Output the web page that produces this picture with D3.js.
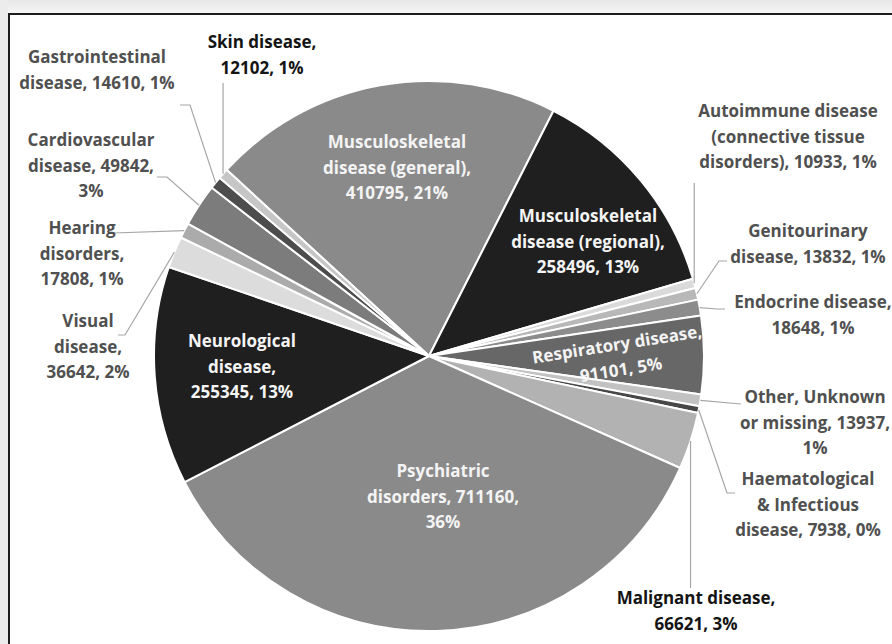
<!DOCTYPE html>
<html>
<head>
<meta charset="utf-8">
<script src="https://cdn.jsdelivr.net/npm/d3@7"></script>
<style>
  html, body { margin: 0; padding: 0; background: #fff; }
  svg { display: block; }
  text { font-family: "Open Sans", "Noto Sans", sans-serif; font-weight: bold; }
</style>
</head>
<body>
<svg id="chart" width="892" height="644"></svg>
<script>
// ---- data (clockwise order as drawn) ----
const categories = [
  "Musculoskeletal disease (general)",
  "Musculoskeletal disease (regional)",
  "Autoimmune disease (connective tissue disorders)",
  "Genitourinary disease",
  "Endocrine disease",
  "Respiratory disease",
  "Other, Unknown or missing",
  "Haematological & Infectious disease",
  "Malignant disease",
  "Psychiatric disorders",
  "Neurological disease",
  "Visual disease",
  "Hearing disorders",
  "Cardiovascular disease",
  "Gastrointestinal disease",
  "Skin disease"
];
const values = [
  410795, 258496, 10933, 13832, 18648, 91101, 13937, 7938,
  66621, 711160, 255345, 36642, 17808, 49842, 14610, 12102
];
const percentLabels = [
  "21%", "13%", "1%", "1%", "1%", "5%", "1%", "0%",
  "3%", "36%", "13%", "2%", "1%", "3%", "1%", "1%"
];

// ---- styles ----
const palette = [
  "#8a8a8a", "#1f1f1f", "#dadada", "#b8b8b8", "#8c8c8c", "#676767", "#c2c2c2", "#474747",
  "#b2b2b2", "#8a8a8a", "#1f1f1f", "#dcdcdc", "#ababab", "#7c7c7c", "#4d4d4d", "#c6c6c6"
];

// ---- layout (label placement, words per line) ----
const labelLayout = {
  "Musculoskeletal disease (general)":   {x: 397, y: 168, lines: [1,2,2], inside: true},
  "Musculoskeletal disease (regional)":  {x: 588, y: 242, lines: [1,2,2], inside: true},
  "Autoimmune disease (connective tissue disorders)": {x: 788, y: 137, lines: [2,2,3], leader: {type: "v", y: 183}},
  "Genitourinary disease":               {x: 808, y: 244, lines: [1,3], leader: {pts: [[727,261],[719,261]]}},
  "Endocrine disease":                   {x: 813, y: 315, lines: [2,2], leader: {pts: [[725,309],[717,309]]}},
  "Respiratory disease":                 {x: 619, y: 357, lines: [2,2], inside: true, rotate: -9},
  "Other, Unknown or missing":           {x: 815, y: 423, lines: [2,3,1], leader: {pts: [[741,404]]}},
  "Haematological & Infectious disease": {x: 808, y: 505, lines: [1,2,3], leader: {pts: [[735,493],[727,493]]}},
  "Malignant disease":                   {x: 696, y: 611, lines: [2,2], dark: true, leader: {type: "v", y: 588}},
  "Psychiatric disorders":               {x: 443, y: 497, lines: [1,2,1], inside: true},
  "Neurological disease":                {x: 242, y: 367, lines: [1,1,2], inside: true},
  "Visual disease":                      {x: 88,  y: 347, lines: [1,1,2], leader: {pts: [[118,335],[125,335]]}},
  "Hearing disorders":                   {x: 82,  y: 254, lines: [1,1,2], leader: {pts: [[113,233]]}},
  "Cardiovascular disease":              {x: 91,  y: 166, lines: [1,2,1], leader: {pts: [[157,177],[167,177]]}},
  "Gastrointestinal disease":            {x: 97,  y: 70,  lines: [1,3], leader: {pts: [[180,105],[190,105]]}},
  "Skin disease":                        {x: 262, y: 55,  lines: [2,2], dark: true, leader: {type: "v", y: 83}}
};

const W = 892, H = 644;
const cx = 429, cy = 356, R = 275;
const startDeg = -47.4;
const lineH = 25.5;
const fontSize = 17;

const svg = d3.select("#chart");

// background frame area
const defs = svg.append("defs");
const grad = defs.append("linearGradient").attr("id", "topg").attr("x1", 0).attr("y1", 0).attr("x2", 0).attr("y2", 1);
grad.append("stop").attr("offset", "0%").attr("stop-color", "#e6e6e6");
grad.append("stop").attr("offset", "100%").attr("stop-color", "#f6f6f6");
svg.append("rect").attr("x", 0).attr("y", 0).attr("width", W).attr("height", 13).attr("fill", "url(#topg)");
svg.append("rect").attr("x", 0).attr("y", 0).attr("width", 8).attr("height", H).attr("fill", "#ececec");
svg.append("rect").attr("x", 9).attr("y", 14).attr("width", W + 20).attr("height", H + 20)
  .attr("fill", "#ffffff").attr("stroke", "#1e1e1e").attr("stroke-width", 2);

const data = categories.map((c, i) => ({cat: c, value: values[i], pct: percentLabels[i], color: palette[i]}));

const pie = d3.pie().sort(null).value(d => d.value)
  .startAngle(startDeg * Math.PI / 180)
  .endAngle(startDeg * Math.PI / 180 + 2 * Math.PI);
const arcs = pie(data);
const arc = d3.arc().innerRadius(0).outerRadius(R);

const g = svg.append("g").attr("transform", `translate(${cx},${cy})`);
g.selectAll("path.slice").data(arcs).join("path")
  .attr("class", "slice")
  .attr("d", arc)
  .attr("fill", d => d.data.color)
  .attr("stroke", "#ffffff")
  .attr("stroke-width", 2)
  .attr("stroke-linejoin", "round");

// leader lines
const leaderG = svg.append("g");
arcs.forEach(a => {
  const L = labelLayout[a.data.cat];
  if (!L || !L.leader) return;
  const mid = (a.startAngle + a.endAngle) / 2;
  const sx = cx + R * Math.sin(mid), sy = cy - R * Math.cos(mid);
  let pts;
  if (L.leader.type === "v") {
    pts = [[sx, L.leader.y], [sx, sy]];
  } else {
    pts = L.leader.pts.concat([[sx, sy]]);
  }
  leaderG.append("path")
    .attr("d", d3.line()(pts))
    .attr("fill", "none")
    .attr("stroke", "#a6a6a6")
    .attr("stroke-width", 1.2);
});

// labels
const labelG = svg.append("g");
arcs.forEach(a => {
  const d = a.data;
  const L = labelLayout[d.cat];
  const words = `${d.cat}, ${d3.format("d")(d.value)}, ${d.pct}`.split(" ");
  const lines = [];
  let k = 0;
  L.lines.forEach(n => { lines.push(words.slice(k, k + n).join(" ")); k += n; });
  const fill = L.inside ? "#f4f4f4" : (L.dark ? "#141414" : "#505050");
  const t = labelG.append("text")
    .attr("transform", `translate(${L.x},${L.y})` + (L.rotate ? ` rotate(${L.rotate})` : ""))
    .attr("text-anchor", "middle")
    .attr("font-size", fontSize)
    .attr("fill", fill);
  const y0 = -(lines.length - 1) * lineH / 2;
  lines.forEach((ln, i) => {
    t.append("tspan").attr("x", 0).attr("y", y0 + i * lineH).attr("dy", "0.35em").text(ln);
  });
});
</script>
</body>
</html>
